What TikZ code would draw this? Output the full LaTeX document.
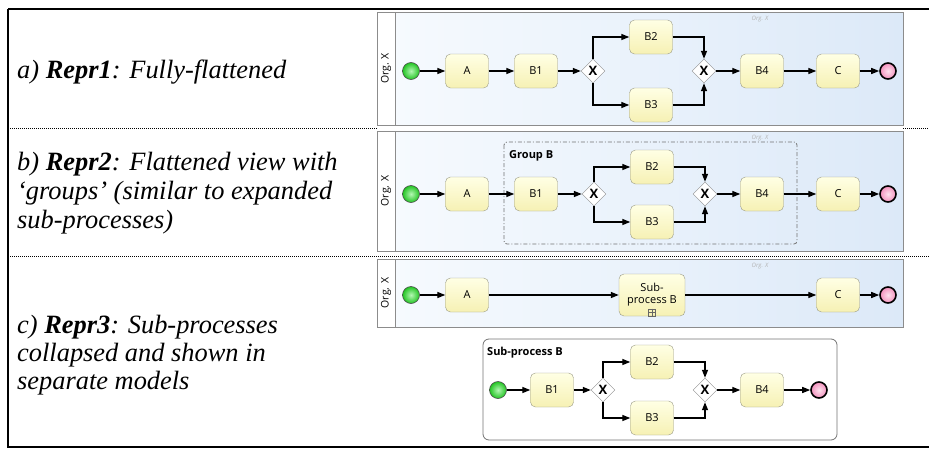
\documentclass[tikz,border=0pt]{standalone}
\usepackage{fontspec}
\setmainfont{Liberation Serif}
\newfontfamily\bpmnfont{Open Sans}
\usetikzlibrary{arrows.meta,shapes.geometric}

\definecolor{poolleft}{HTML}{F6FAFE}
\definecolor{poolright}{HTML}{DCE9F8}
\definecolor{tasktop}{HTML}{FFFFE4}
\definecolor{taskbot}{HTML}{F6F1B4}
\definecolor{taskline}{HTML}{9A9A86}
\definecolor{poolline}{HTML}{8C8C8C}
\definecolor{greenin}{HTML}{B4F7B4}
\definecolor{greenout}{HTML}{22C422}
\definecolor{pinkin}{HTML}{FDE2EE}
\definecolor{pinkout}{HTML}{F290BC}

\tikzset{
  task/.style={draw=taskline, rounded corners=5pt, top color=tasktop, bottom color=taskbot,
    minimum width=43pt, minimum height=34pt, inner sep=0pt, font=\bpmnfont\fontsize{11}{13}\selectfont},
  startev/.style={circle, draw=black!70, line width=0.6pt, inner color=greenin, outer color=greenout,
    minimum size=17pt, inner sep=0pt},
  endev/.style={circle, draw=black, line width=1.6pt, inner color=pinkin, outer color=pinkout,
    minimum size=16pt, inner sep=0pt},
  gateway/.style={diamond, draw=black!45, fill=white, minimum size=24pt, inner sep=0pt,
    font=\bpmnfont\bfseries\fontsize{13}{13}\selectfont},
  flow/.style={line width=1.3pt, -{Triangle[length=8pt,width=6pt]}},
  lane/.style={draw=poolline, line width=0.8pt},
  caption/.style={anchor=base west, inner sep=0pt, font=\itshape\fontsize{26.4}{30}\selectfont},
  orglabel/.style={rotate=90, font=\bpmnfont\fontsize{10.5}{11}\selectfont},
  watermark/.style={font=\bpmnfont\itshape\fontsize{6}{6}\selectfont, text=black!30},
  boxtitle/.style={anchor=west, inner sep=0pt, font=\bpmnfont\bfseries\fontsize{11}{13}\selectfont},
}

\begin{document}
\begin{tikzpicture}[x=1pt, y=-1pt]
  \useasboundingbox (0,0) rectangle (929,450);

  % table frame
  \draw[line width=1.5pt] (8,9) -- (929,9);
  \draw[line width=1.5pt] (8,9) -- (8,447) -- (929,447);
  \draw[line width=1pt, dash pattern=on 1pt off 1pt] (8,128) -- (377,128) (903,128) -- (929,128);
  \draw[line width=1pt, dash pattern=on 1pt off 1pt] (8,256) -- (929,256);

  % left column
  \node[caption] (capa) at (17,78) {a) \textbf{Repr1}: Fully-flattened};
  \node[caption] (capb1) at (17,170) {b) \textbf{Repr2}: Flattened view with};
  \node[caption] (capb2) at (17,199) {‘groups’ (similar to expanded};
  \node[caption] (capb3) at (17,228) {sub-processes)};
  \node[caption] (capc1) at (17,333) {c) \textbf{Repr3}: Sub-processes};
  \node[caption] (capc2) at (17,361) {collapsed and shown in};
  \node[caption] (capc3) at (17,389) {separate models};

  % pools
  \foreach \ptop/\pbot [count=\i] in {12/125,131/251,259/327} {
    \draw[lane, fill=white] (377,\ptop) rectangle (903,\pbot);
    \draw[lane, left color=poolleft, right color=poolright] (395,\ptop) rectangle (903,\pbot);
    \node[orglabel] (org\i) at (386,{(\ptop+\pbot)/2}) {Org. X};
    \node[watermark] (mark\i) at (760,\ptop+7) {Org. X};
  }

  % a) fully flattened
  \node[startev] (sa) at (411,71) {};
  \node[task] (Aa) at (467,71) {A};
  \node[task] (B1a) at (536,71) {B1};
  \node[gateway] (ga) at (593,71) {X};
  \node[task] (B2a) at (651,37) {B2};
  \node[task] (B3a) at (651,105) {B3};
  \node[gateway] (ja) at (704,71) {X};
  \node[task] (B4a) at (762,71) {B4};
  \node[task] (Ca) at (838,71) {C};
  \node[endev] (ea) at (888,71) {};
  \draw[flow] (sa) -- (Aa);
  \draw[flow] (Aa) -- (B1a);
  \draw[flow] (B1a) -- (ga);
  \draw[flow] (ga) |- (B2a);
  \draw[flow] (ga) |- (B3a);
  \draw[flow] (B2a) -| (ja);
  \draw[flow] (B3a) -| (ja);
  \draw[flow] (ja) -- (B4a);
  \draw[flow] (B4a) -- (Ca);
  \draw[flow] (Ca) -- (ea);

  % b) flattened with group
  \draw[draw=black!55, line width=0.8pt, rounded corners=3pt,
    dash pattern=on 4pt off 2pt on 1pt off 2pt] (504,142) rectangle (797,244);
  \node[boxtitle] (grp) at (509,156) {Group B};
  \node[startev] (sb) at (411,194) {};
  \node[task] (Ab) at (467,194) {A};
  \node[task] (B1b) at (536,194) {B1};
  \node[gateway] (gb) at (594,194) {X};
  \node[task] (B2b) at (652,167) {B2};
  \node[task] (B3b) at (652,222) {B3};
  \node[gateway] (jb) at (705,194) {X};
  \node[task] (B4b) at (762,194) {B4};
  \node[task] (Cb) at (838,194) {C};
  \node[endev] (eb) at (888,194) {};
  \draw[flow] (sb) -- (Ab);
  \draw[flow] (Ab) -- (B1b);
  \draw[flow] (B1b) -- (gb);
  \draw[flow] (gb) |- (B2b);
  \draw[flow] (gb) |- (B3b);
  \draw[flow] (B2b) -| (jb);
  \draw[flow] (B3b) -| (jb);
  \draw[flow] (jb) -- (B4b);
  \draw[flow] (B4b) -- (Cb);
  \draw[flow] (Cb) -- (eb);

  % c) collapsed sub-process
  \node[startev] (sc) at (411,295) {};
  \node[task] (Ac) at (467,295) {A};
  \node[task, minimum width=66pt, minimum height=42pt, align=center] (subc) at (652,295) {Sub-\\[-1pt]process B};
  \node[draw=black!60, line width=0.5pt, minimum size=7pt, inner sep=0pt, anchor=south] (plus) at (subc.south) {};
  \draw[black!60, line width=0.5pt] (plus.north) -- (plus.south) (plus.west) -- (plus.east);
  \node[task] (Cc) at (838,295) {C};
  \node[endev] (ec) at (888,295) {};
  \draw[flow] (sc) -- (Ac);
  \draw[flow] (Ac) -- (subc);
  \draw[flow] (subc) -- (Cc);
  \draw[flow] (Cc) -- (ec);

  % separate model of sub-process B
  \draw[draw=black!55, line width=0.8pt, rounded corners=6pt, fill=white] (483,339) rectangle (837,440);
  \node[boxtitle] (subt) at (487,353) {Sub-process B};
  \node[startev] (sd) at (498,390) {};
  \node[task] (B1d) at (552,390) {B1};
  \node[gateway] (gd) at (603,390) {X};
  \node[task] (B2d) at (652,362) {B2};
  \node[task] (B3d) at (652,418) {B3};
  \node[gateway] (jd) at (705,390) {X};
  \node[task] (B4d) at (762,390) {B4};
  \node[endev] (ed) at (819,390) {};
  \draw[flow] (sd) -- (B1d);
  \draw[flow] (B1d) -- (gd);
  \draw[flow] (gd) |- (B2d);
  \draw[flow] (gd) |- (B3d);
  \draw[flow] (B2d) -| (jd);
  \draw[flow] (B3d) -| (jd);
  \draw[flow] (jd) -- (B4d);
  \draw[flow] (B4d) -- (ed);
\end{tikzpicture}
\end{document}
